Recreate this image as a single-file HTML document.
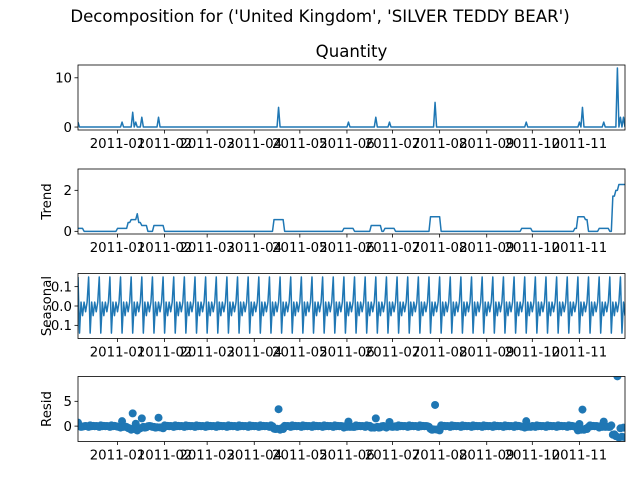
<!DOCTYPE html>
<html><head><meta charset="utf-8"><style>
body{margin:0;background:#fff}
svg{display:block;font-family:"DejaVu Sans","Liberation Sans",sans-serif}
</style></head><body>
<svg id="chart" width="640" height="480" xmlns="http://www.w3.org/2000/svg">
<text x="320" y="22" text-anchor="middle" font-size="16.6">Decomposition for ('United Kingdom', 'SILVER TEDDY BEAR')</text>
<text x="351.5" y="57" text-anchor="middle" font-size="16.6">Quantity</text>
</svg>
<script>
const nDays = 361;
const spikeDays = [0, 29, 36, 38, 42, 53, 132, 178, 196, 205, 235, 295, 330, 332, 346, 355, 357, 359];
const spikeValues = [1, 1, 3, 1, 2, 2, 4, 1, 2, 1, 5, 1, 1, 4, 1, 12, 2, 2];
const seasonalPattern = [0.15, -0.14, 0.02, -0.05, 0.02, -0.03, 0.02];
const monthLabels = ['2011-01','2011-02','2011-03','2011-04','2011-05','2011-06','2011-07','2011-08','2011-09','2011-10','2011-11'];
const monthDays = [26, 57, 85, 116, 146, 177, 207, 238, 269, 299, 330];
const qTicks = [0, 10], trendTicks = [0, 2], seasTicks = [-0.1, 0.0, 0.1], residTicks = [0, 5];

const NS = 'http://www.w3.org/2000/svg';
const svg = document.getElementById('chart');
const C = '#1f77b4';
const FS = 13.3;
function mk(tag, attrs, parent) { const e = document.createElementNS(NS, tag); for (const k in attrs) e.setAttribute(k, attrs[k]); (parent || svg).appendChild(e); return e; }

const qty = new Array(nDays).fill(0);
spikeDays.forEach((d, i) => { qty[d] = spikeValues[i]; });
const trend = [];
for (let i = 0; i < nDays; i++) {
  if (i < 3 || i > nDays - 4) { trend.push(null); continue; }
  let s = 0; for (let k = -3; k <= 3; k++) s += qty[i + k]; trend.push(s / 7);
}
for (let i = 0; i < 3; i++) trend[i] = trend[3];
const slope = trend[nDays - 4] - trend[nDays - 5];
for (let i = nDays - 3; i < nDays; i++) trend[i] = trend[nDays - 4] + slope * (i - nDays + 4);
const seas = qty.map((_, i) => seasonalPattern[i % 7]);
const resid = qty.map((q, i) => q - trend[i] - seas[i]);

const X0 = 78, X1 = 625;
const xs = d => X0 + d * (X1 - X0) / (nDays - 1);
const panels = [
  {name: 'quantity', top: 65, bot: 130, lo: -0.6, hi: 12.6, data: qty, ticks: qTicks, fmt: v => String(v), label: null, type: 'line'},
  {name: 'trend', top: 169, bot: 234, lo: -0.13, hi: 3.04, data: trend, ticks: trendTicks, fmt: v => String(v), label: 'Trend', type: 'line'},
  {name: 'seasonal', top: 273.5, bot: 338.5, lo: -0.168, hi: 0.168, data: seas, ticks: seasTicks, fmt: v => v.toFixed(1), label: 'Seasonal', type: 'line'},
  {name: 'resid', top: 376.5, bot: 441.5, lo: -3.1, hi: 10, data: resid, ticks: residTicks, fmt: v => String(v), label: 'Resid', type: 'dots'}
];
panels.forEach(p => {
  const ys = v => p.bot - (v - p.lo) / (p.hi - p.lo) * (p.bot - p.top);
  const g = mk('g', {});
  
  
  const cid = 'clip-' + p.name;
  const cp = mk('clipPath', {id: cid}, g);
  mk('rect', {x: X0, y: p.top, width: X1 - X0, height: p.bot - p.top}, cp);
  if (p.type === 'line') {
    const pts = p.data.map((v, i) => xs(i).toFixed(2) + ',' + ys(v).toFixed(2)).join(' ');
    const pl = mk('polyline', {points: pts, fill: 'none', stroke: C, 'stroke-width': 1.5, 'stroke-linejoin': 'round', 'clip-path': 'url(#' + cid + ')'}, g);
    
    
  } else {
    const dg = mk('g', {'clip-path': 'url(#' + cid + ')', fill: C}, g);
    
    
    p.data.forEach((v, i) => { mk('circle', {cx: xs(i).toFixed(2), cy: ys(v).toFixed(2), r: 4}, dg); });
  }
  const fr = mk('rect', {x: X0, y: p.top, width: X1 - X0, height: p.bot - p.top, fill: 'none', stroke: '#000', 'stroke-width': 0.8}, g);
  
  
  p.ticks.forEach(t => {
    const y = ys(t);
    mk('line', {x1: X0 - 3.5, x2: X0, y1: y, y2: y, stroke: '#000', 'stroke-width': 0.8}, g);
    const tx = mk('text', {x: X0 - 6, y: y + 4.8, 'text-anchor': 'end', 'font-size': FS}, g);
    tx.textContent = p.fmt(t);
    
    
  });
  monthDays.forEach((d, i) => {
    const x = xs(d);
    mk('line', {x1: x, x2: x, y1: p.bot, y2: p.bot + 3.5, stroke: '#000', 'stroke-width': 0.8}, g);
    const tx = mk('text', {x: x, y: p.bot + 18, 'text-anchor': 'middle', 'font-size': FS}, g);
    tx.textContent = monthLabels[i];
    
    
  });
  if (p.label) {
    const cy = (p.top + p.bot) / 2;
    const lt = mk('text', {x: 51, y: cy, 'text-anchor': 'middle', 'font-size': FS, transform: 'rotate(-90 51 ' + cy + ')'}, g);
    lt.textContent = p.label;
    
    
  }
});
</script>
</body></html>
